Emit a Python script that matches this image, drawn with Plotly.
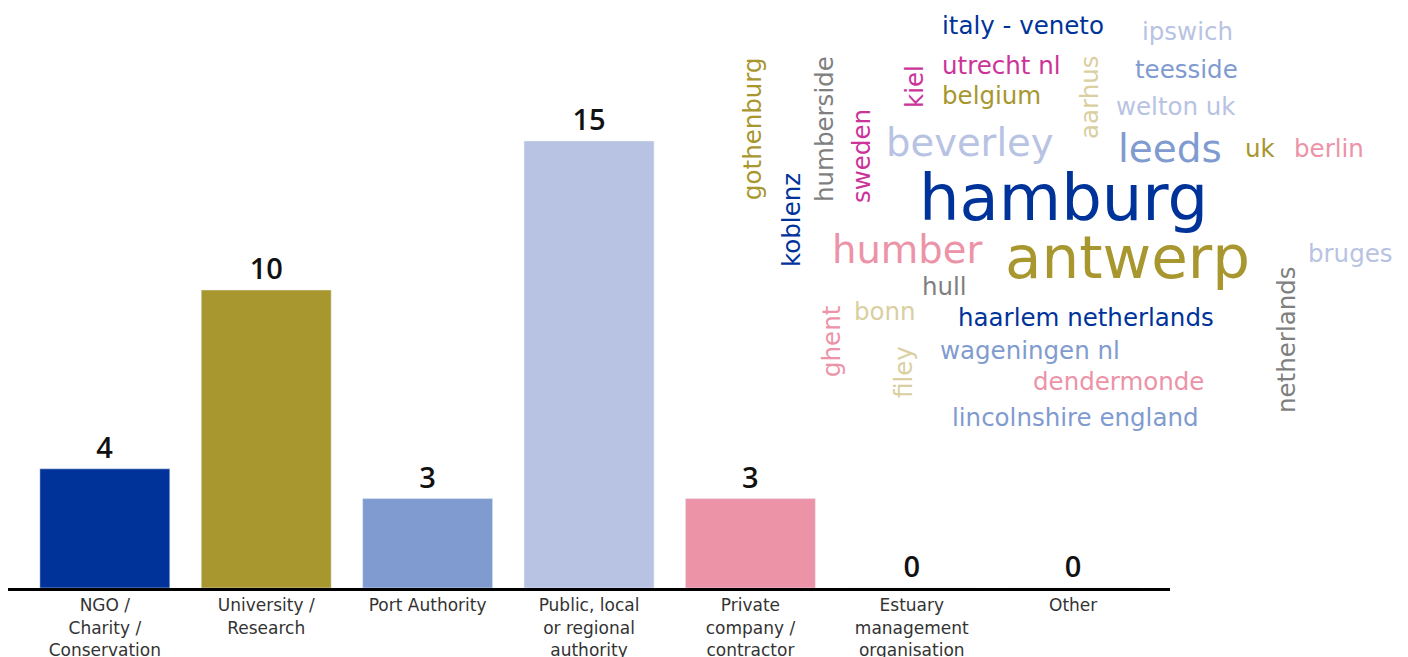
import plotly.graph_objects as go

categories = ["NGO /<br>Charity /<br>Conservation", "University /<br>Research", "Port Authority",
              "Public, local<br>or regional<br>authority", "Private<br>company /<br>contractor",
              "Estuary<br>management<br>organisation", "Other"]
counts = [4, 10, 3, 15, 3, 0, 0]
bar_colors = ["#00339A", "#A8962F", "#7F9BD0", "#B8C3E3", "#EC93A8", "#B8C3E3", "#B8C3E3"]

words = ["italy - veneto", "ipswich", "utrecht nl", "teesside", "belgium", "welton uk",
         "beverley", "leeds", "uk", "berlin", "hamburg", "antwerp", "humber", "bruges",
         "hull", "bonn", "haarlem netherlands", "wageningen nl", "dendermonde",
         "lincolnshire england", "gothenburg", "humberside", "sweden", "kiel", "aarhus",
         "koblenz", "ghent", "filey", "netherlands"]

# word-cloud layout (page px): (center x, center y, font size, color, angle)
DB, OL, MB, LB, PK, MG, GR, BE = ("#00339A", "#A8962F", "#7F9BD0", "#B8C3E3",
                                  "#EC93A8", "#CC3399", "#7F7F7F", "#D9CFA0")
S = 24.5
word_layout = [
    (1023, 26, S, DB, 0), (1187, 32, S, LB, 0), (1001, 65, S, MG, 0),
    (1186, 69, S, MB, 0), (991, 96, S, OL, 0), (1176, 107, S, LB, 0),
    (970, 143, 38.5, LB, 0), (1170, 148, 39, MB, 0), (1260, 148, S, OL, 0),
    (1329, 148, S, PK, 0), (1063, 198, 64, DB, 0), (1127, 258, 59.5, OL, 0),
    (907, 249, 38.5, PK, 0), (1350, 253, S, LB, 0), (944, 286, S, GR, 0),
    (885, 312, S, BE, 0), (1086, 317, S, DB, 0), (1030, 350, S, MB, 0),
    (1118, 381, S, PK, 0), (1075, 417, S, MB, 0),
    (752, 129, S, OL, -90), (824, 129, S, GR, -90), (862, 156, S, MG, -90),
    (914, 87, S, MG, -90), (1089, 97, S, BE, -90), (792, 220, S, DB, -90),
    (831, 341, S, PK, -90), (904, 372, S, BE, -90), (1286, 340, S, GR, -90),
]

FONT = "DejaVu Sans"
W, H = 1408, 657
OFF = 8  # page body margin
ML, MR, MT = 0, 246, 0
PW = W - ML - MR
AXIS_Y = 588
PH = AXIS_Y - OFF - MT
MB_ = H - MT - PH

fig = go.Figure()
fig.add_trace(go.Bar(
    x=categories, y=counts, marker_color=bar_colors,
    text=counts, textposition="outside", cliponaxis=False,
    textfont=dict(size=29, color="#111111", family="Open Sans", weight=600),
))

for w, (px, py, fs, col, ang) in zip(words, word_layout):
    fig.add_annotation(
        x=(px - OFF - ML) / PW, y=(AXIS_Y - py) / PH, xref="paper", yref="paper",
        text=w, showarrow=False, textangle=ang, xanchor="center", yanchor="middle",
        font=dict(size=fs, color=col, family=FONT),
    )

fig.update_layout(
    width=W, height=H, margin=dict(l=ML, r=MR, t=MT, b=MB_),
    paper_bgcolor="white", plot_bgcolor="white", showlegend=False, bargap=0.195,
    font=dict(family=FONT, color="#333333"),
)
fig.update_xaxes(range=[-0.6, 6.6], showline=True, linecolor="black", linewidth=3,
                 showgrid=False, tickfont=dict(size=17, color="#333333", family=FONT),
                 ticks="")
fig.update_yaxes(range=[0, PH / 29.8], visible=False, showgrid=False)

fig.write_html("out.html")
